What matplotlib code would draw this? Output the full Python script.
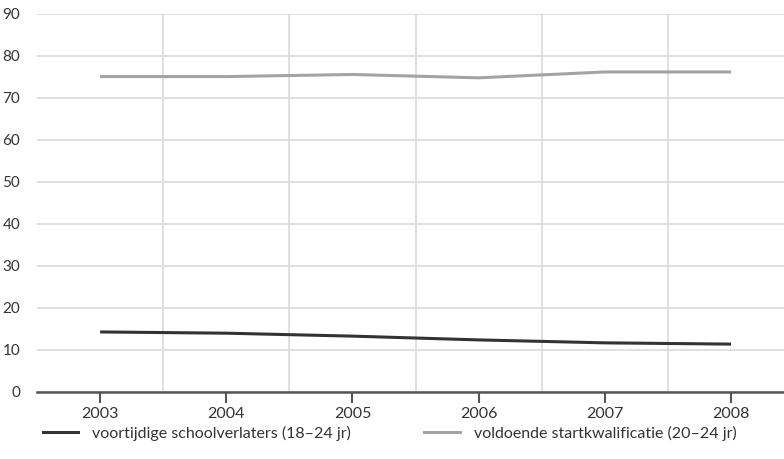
import numpy as np
import matplotlib.pyplot as plt
from matplotlib.lines import Line2D

plt.rcParams['font.family'] = ['Lato', 'DejaVu Sans']

years = ['2003', '2004', '2005', '2006', '2007', '2008']
voortijdig = [14.3, 14.0, 13.3, 12.4, 11.7, 11.4]   # 18-24 jr
startkwal = [75.1, 75.1, 75.6, 74.8, 76.2, 76.2]    # 20-24 jr

fig = plt.figure(figsize=(7.84, 4.59), dpi=100)
ax = fig.add_axes([0.0472, 0.146, 0.9528, 0.8235])

x = np.arange(len(years))
ax.plot(x, voortijdig, color='#333333', lw=2.2, solid_capstyle='butt')
ax.plot(x, startkwal, color='#a3a3a6', lw=2.2, solid_capstyle='butt')

ax.set_xlim(-0.5, 5.42)
ax.set_ylim(0, 90)
ax.set_yticks(range(0, 91, 10))
ax.set_xticks(x)
ax.set_xticklabels(years)
ax.set_xticks(x[:-1] + 0.5, minor=True)

ax.grid(axis='y', color='#dadada', lw=1.2)
ax.grid(axis='x', which='minor', color='#dadada', lw=1.2)
ax.set_axisbelow(True)

for s in ['top', 'right', 'left']:
    ax.spines[s].set_visible(False)
ax.spines['bottom'].set_color('#555555')
ax.spines['bottom'].set_linewidth(1.8)

ax.tick_params(axis='y', length=0, pad=12, labelsize=11, labelcolor='#333333')
ax.tick_params(axis='x', which='major', length=8, width=1.5, color='#555555',
               pad=3, labelsize=11.5, labelcolor='#333333')
ax.tick_params(axis='x', which='minor', length=0)

handles = [Line2D([], [], color='#333333', lw=2.2),
           Line2D([], [], color='#a3a3a6', lw=2.2)]
labels = ['voortijdige schoolverlaters (18\u201324 jr)',
          'voldoende startkwalificatie (20\u201324 jr)']
fig.legend(handles, labels, loc='lower left', bbox_to_anchor=(0.036, 0.008),
           ncol=2, frameon=False, fontsize=11.5, handlelength=2.2,
           columnspacing=4.6, handletextpad=0.9, labelcolor='#333333')

fig.savefig('out.png', dpi=100)
